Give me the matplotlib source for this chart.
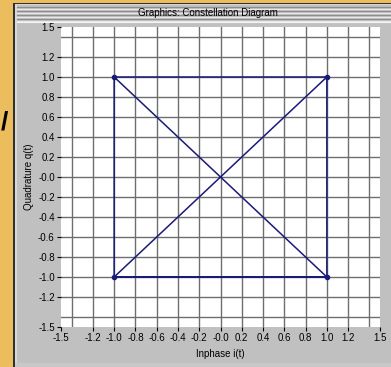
import matplotlib
matplotlib.use("Agg")
import matplotlib.pyplot as plt
from matplotlib.patches import Rectangle
from matplotlib.lines import Line2D

# constellation trajectory (I/Q)
i_vals = [-1.0, 1.0, 1.0, -1.0, -1.0, 1.0, -1.0, 1.0]
q_vals = [1.0, 1.0, -1.0, -1.0, 1.0, -1.0, -1.0, 1.0]
corner_i = [-1.0, 1.0, 1.0, -1.0]
corner_q = [1.0, 1.0, -1.0, -1.0]

tick_vals = [-1.5, -1.2, -1.0, -0.8, -0.6, -0.4, -0.2, 0.0, 0.2, 0.4, 0.6, 0.8, 1.0, 1.2, 1.5]
tick_labels = ["-1.5", "-1.2", "-1.0", "-0.8", "-0.6", "-0.4", "-0.2", "-0.0",
               "0.2", "0.4", "0.6", "0.8", "1.0", "1.2", "1.5"]
grid_vals = [-1.4, -1.2, -1.0, -0.8, -0.6, -0.4, -0.2, 0.0, 0.2, 0.4, 0.6, 0.8, 1.0, 1.2, 1.4]

W, H = 391, 367
plt.rcParams['font.family'] = ['Liberation Sans', 'DejaVu Sans']

fig = plt.figure(figsize=(W / 100, H / 100), dpi=100, facecolor='#ecbd5c')


def px(x, y, w, h):
    # pixel box (top-left origin) -> figure fraction rect
    return (x / W, 1 - (y + h) / H, w / W, h / H)


def box(x, y, w, h, color):
    x0, y0, ww, hh = px(x, y, w, h)
    fig.add_artist(Rectangle((x0, y0), ww, hh, transform=fig.transFigure,
                             facecolor=color, edgecolor='none', zorder=0))


def hline(y, x0, x1, color, lw=1):
    fig.add_artist(Line2D([x0 / W, x1 / W], [1 - y / H, 1 - y / H],
                          transform=fig.transFigure, color=color, lw=lw))


# window frame
box(13, 3, W - 13, H - 3, '#303030')
box(15, 4, W - 15, H - 6, '#d8d8d8')
box(17, 5, W - 17, H - 9, '#c0c0c0')
box(15, H - 4, W - 15, 4, '#c8c8c8')

# title bar stripes
for k, yy in enumerate(range(6, 21, 2)):
    hline(yy + 0.5, 17, W, '#8c8c8c' if k % 2 == 0 else '#e8e8e8', lw=0.8)
hline(21.5, 17, W, '#f4f4f4', lw=0.8)
box(142, 7, 132, 13, '#c0c0c0')
fig.text(208 / W, 1 - 13.5 / H, "Graphics: Constellation Diagram", ha='center', va='center',
         fontsize=7, color='black')

# stray glyph on the slide background
fig.text(4 / W, 1 - 123 / H, "/", ha='center', va='center', fontsize=19,
         fontweight='bold', color='black')

ax = fig.add_axes(px(61, 27, 319, 300))
ax.set_facecolor('white')
ax.set_xlim(-1.5, 1.5)
ax.set_ylim(-1.5, 1.5)

for g in grid_vals:
    ax.axvline(g, color='#6e6e6e', lw=1.0, zorder=1)
    ax.axhline(g, color='#6e6e6e', lw=1.0, zorder=1)

ax.plot(i_vals, q_vals, color='#1a1a78', lw=1.1, zorder=3)
ax.plot(corner_i, corner_q, 'o', color='#1a1a78', ms=3, zorder=4)

for s in ax.spines.values():
    s.set_visible(False)

ax.set_xticks(tick_vals)
ax.set_xticklabels(tick_labels)
ax.set_yticks(tick_vals)
ax.set_yticklabels(tick_labels)
ax.tick_params(axis='both', direction='out', length=3, width=0.8, color='black',
               labelsize=7, pad=1.5)

ax.set_xlabel("Inphase i(t)", fontsize=7, labelpad=4)
ax.set_ylabel("Quadrature q(t)", fontsize=7, labelpad=3)

fig.savefig("out.png", dpi=100, facecolor=fig.get_facecolor())
